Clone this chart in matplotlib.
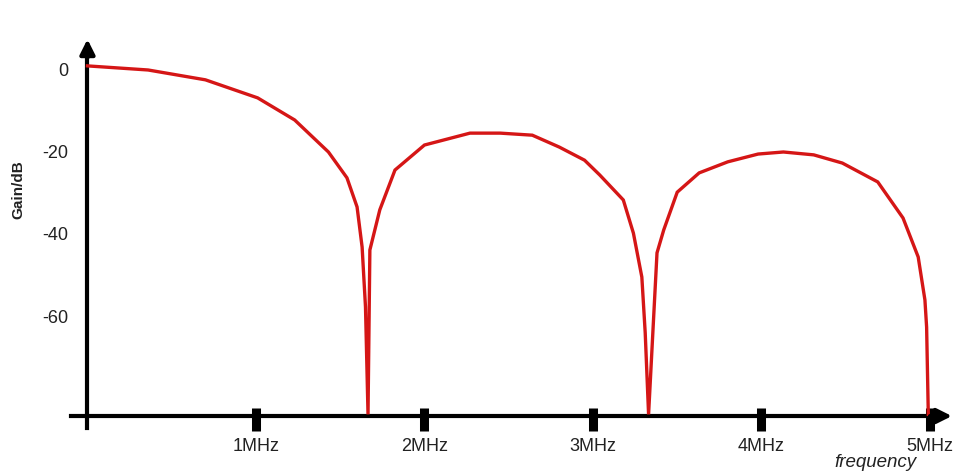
import matplotlib
matplotlib.use('Agg')
import matplotlib.pyplot as plt

plt.rcParams['font.family'] = ['Liberation Sans', 'DejaVu Sans']

# curve vertices (MHz, dB)
freq_mhz = [0.0, 0.36, 0.70, 1.01, 1.23, 1.43, 1.54, 1.60, 1.63, 1.65, 1.665,
            1.676, 1.735, 1.825, 2.00, 2.27, 2.45, 2.64, 2.80, 2.95, 3.04,
            3.18, 3.24, 3.29, 3.31, 3.33,
            3.38, 3.42, 3.50, 3.63, 3.80, 3.98, 4.13, 4.31, 4.48, 4.69,
            4.84, 4.93, 4.97, 4.98, 4.99]
gain_db = [1.0, 0.0, -2.4, -6.8, -12.2, -20.0, -26.3, -33.4, -43.2, -57.8, -84.0,
           -43.9, -34.1, -24.4, -18.3, -15.4, -15.4, -15.9, -18.8, -22.0, -25.6,
           -31.7, -39.8, -50.5, -64.1, -84.0,
           -44.6, -39.0, -29.8, -25.1, -22.4, -20.5, -20.0, -20.7, -22.7, -27.3,
           -36.1, -45.6, -56.1, -62.7, -84.0]

x_ticks = [1, 2, 3, 4, 5]
x_labels = ['1MHz', '2MHz', '3MHz', '4MHz', '5MHz']
y_ticks = [0, -20, -40, -60]
y_labels = ['0', '-20', '-40', '-60']

floor_db = -84.4

fig = plt.figure(figsize=(9.62, 4.73), dpi=100)
ax = fig.add_axes([0, 0, 1, 1])
ax.set_xlim(-0.519, 5.190)
ax.set_ylim(-98.29, 17.07)

ax.plot(freq_mhz, gain_db, color='#d51616', lw=2.4, solid_joinstyle='miter', zorder=3)

# axes drawn as spines through the origin
for s in ['top', 'right']:
    ax.spines[s].set_visible(False)
ax.spines['left'].set_position(('data', 0))
ax.spines['bottom'].set_position(('data', floor_db))
ax.spines['left'].set_bounds(-87.3, 5.0)
ax.spines['bottom'].set_bounds(-0.1, 5.06)
for s in ['left', 'bottom']:
    ax.spines[s].set_linewidth(3)
    ax.spines[s].set_color('black')

# arrow heads
ax.annotate('', xy=(0, 7.5), xytext=(0, 3.0),
            arrowprops=dict(arrowstyle='-|>', color='black', lw=3, mutation_scale=22,
                            shrinkA=0, shrinkB=0))
ax.annotate('', xy=(5.13, floor_db), xytext=(5.0, floor_db),
            arrowprops=dict(arrowstyle='-|>', color='black', lw=3, mutation_scale=22,
                            shrinkA=0, shrinkB=0))

ax.set_xticks(x_ticks)
ax.set_xticklabels(x_labels)
ax.set_xticks(x_ticks, minor=True)
ax.xaxis.remove_overlapping_locs = False
ax.set_yticks(y_ticks)
ax.set_yticklabels(y_labels)
ax.tick_params(axis='x', which='major', direction='out', length=11, width=6.5,
               color='black', labelsize=13, labelcolor='#222222', pad=5)
ax.tick_params(axis='x', which='minor', direction='in', length=5.5, width=6.5,
               color='black', labelbottom=False)
ax.tick_params(axis='y', length=0, labelsize=13, labelcolor='#222222', pad=14)

ax.text(0.019, 0.60, 'Gain/dB', transform=ax.transAxes, rotation=90,
        ha='center', va='center', fontsize=11, fontweight='bold', color='#222222')
ax.text(0.91, 0.022, 'frequency', transform=ax.transAxes, ha='center', va='center',
        fontsize=13.5, style='italic', color='#222222')

fig.savefig('out.png', dpi=100)
